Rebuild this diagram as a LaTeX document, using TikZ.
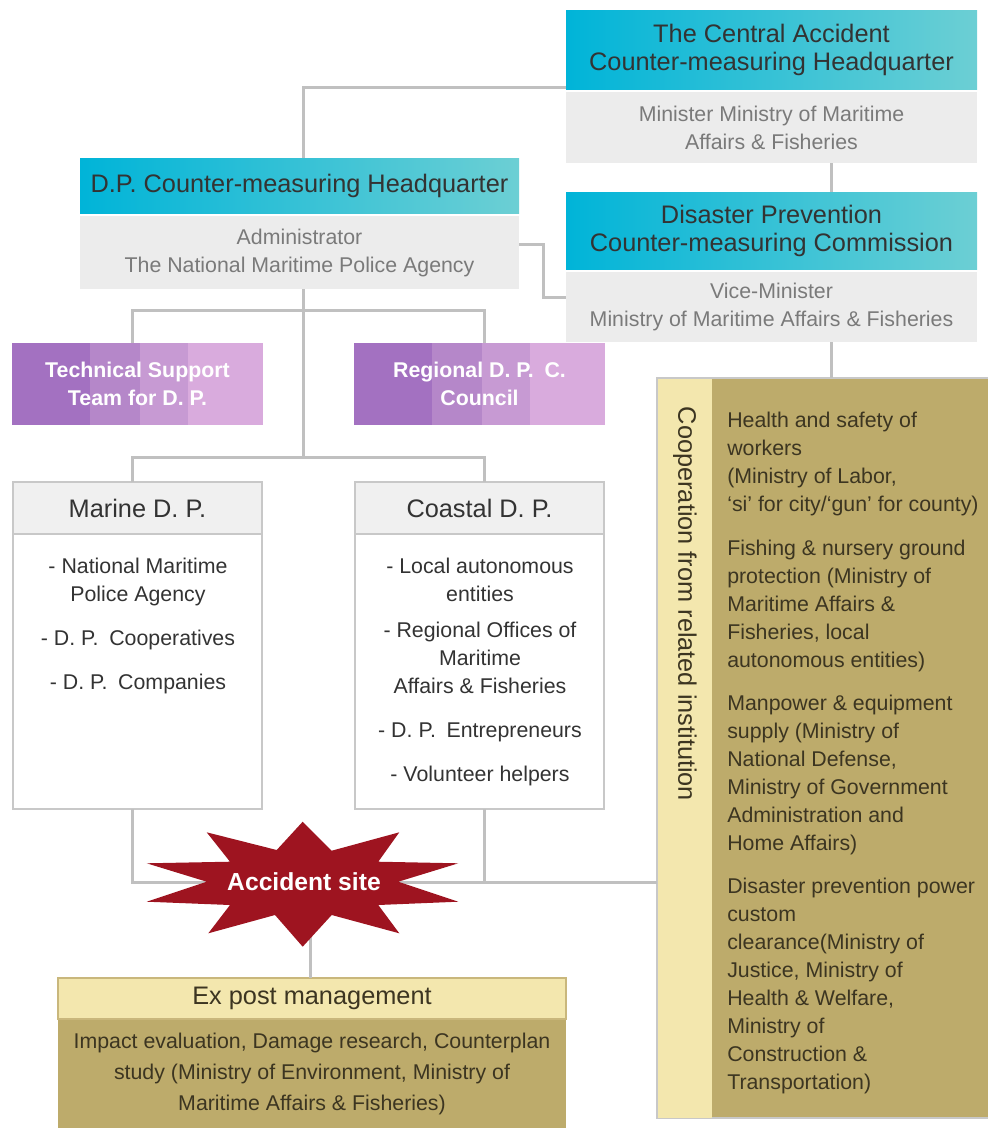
\documentclass[tikz,border=0pt]{standalone}
\usepackage{fontspec}
\setmainfont{Liberation Sans}
\definecolor{cyanA}{HTML}{00B4D8}
\definecolor{cyanB}{HTML}{6CCFD4}
\definecolor{grayfill}{HTML}{ECECEC}
\definecolor{hdrtxt}{HTML}{333333}
\definecolor{graytxt}{HTML}{7A7A7A}
\definecolor{linegray}{HTML}{C0C0C0}
\definecolor{purA}{HTML}{A371C1}
\definecolor{purB}{HTML}{B587C9}
\definecolor{purC}{HTML}{C79AD3}
\definecolor{purD}{HTML}{D9ABDD}
\definecolor{boxhead}{HTML}{F0F0F0}
\definecolor{boxborder}{HTML}{C8C8C8}
\definecolor{olive}{HTML}{BDAB6B}
\definecolor{pale}{HTML}{F3E7AE}
\definecolor{olivetxt}{HTML}{3C3521}
\definecolor{oliveborder}{HTML}{C9B77C}
\definecolor{starred}{HTML}{9E1420}
\def\pxu{0.75pt}
\begin{document}
\begin{tikzpicture}[x=0.75pt,y=-0.75pt,
  conn/.style={draw=linegray,line width=2.25pt},
  cell/.style={anchor=north west,inner sep=0pt,outer sep=0pt,align=center},
  hdr/.style={cell,left color=cyanA,right color=cyanB,text=hdrtxt,
    font=\fontsize{19}{21}\selectfont},
  grb/.style={cell,fill=grayfill,text=graytxt,font=\fontsize{16}{21}\selectfont},
  purtxt/.style={anchor=center,inner sep=0pt,align=center,text=white,
    font=\bfseries\fontsize{16}{21}\selectfont},
  dphead/.style={cell,fill=boxhead,draw=boxborder,line width=1.2pt,text=hdrtxt,
    font=\fontsize{19}{21}\selectfont},
  dpbody/.style={cell,fill=white,draw=boxborder,line width=1.2pt},
  listtxt/.style={anchor=north,inner sep=0pt,align=center,text=hdrtxt,
    font=\fontsize{16}{21}\selectfont},
  coltxt/.style={inner sep=0pt,text=olivetxt,font=\fontsize{16}{21}\selectfont}
]
\useasboundingbox (0,0) rectangle (988,1128);

% ---- top right boxes
\node[hdr,minimum width=411*\pxu,minimum height=79*\pxu] (cahH) at (566,10)
  {The Central Accident\\Counter-measuring Headquarter};
\node[grb,minimum width=411*\pxu,minimum height=71*\pxu] (cahB) at (566,92)
  {Minister Ministry of Maritime\\Affairs \& Fisheries};
\node[hdr,minimum width=411*\pxu,minimum height=77*\pxu] (dpcH) at (566,192)
  {Disaster Prevention\\Counter-measuring Commission};
\node[grb,minimum width=411*\pxu,minimum height=70*\pxu] (dpcB) at (566,272)
  {Vice-Minister\\Ministry of Maritime Affairs \& Fisheries};

% ---- D.P. headquarter
\node[hdr,minimum width=439*\pxu,minimum height=55*\pxu] (dphH) at (80,158)
  {D.P. Counter-measuring Headquarter};
\node[grb,minimum width=439*\pxu,minimum height=73*\pxu] (dphB) at (80,216)
  {Administrator\\The National Maritime Police Agency};

% ---- purple boxes
\fill[purA] (12,343) rectangle (90,425);
\fill[purB] (90,343) rectangle (140,425);
\fill[purC] (140,343) rectangle (188,425);
\fill[purD] (188,343) rectangle (263,425);
\node[cell,minimum width=251*\pxu,minimum height=82*\pxu] (tech) at (12,343) {};
\node[purtxt] (techT) at (tech.center) {Technical Support\\Team for D. P.};
\fill[purA] (354,343) rectangle (432,425);
\fill[purB] (432,343) rectangle (482,425);
\fill[purC] (482,343) rectangle (530,425);
\fill[purD] (530,343) rectangle (605,425);
\node[cell,minimum width=251*\pxu,minimum height=82*\pxu] (reg) at (354,343) {};
\node[purtxt] (regT) at (reg.center) {Regional D. P.\enspace C.\\Council};

% ---- Marine / Coastal
\node[dphead,minimum width=249*\pxu,minimum height=52*\pxu] (marH) at (13,482) {Marine D. P.};
\node[dpbody,minimum width=249*\pxu,minimum height=275*\pxu] (marB) at (13,534) {};
\node[listtxt] (marT) at (138,558)
  {- National Maritime\\Police Agency\\[12pt]- D. P.\enspace Cooperatives\\[12pt]- D. P.\enspace Companies};
\node[dphead,minimum width=249*\pxu,minimum height=52*\pxu] (coaH) at (355,482) {Coastal D. P.};
\node[dpbody,minimum width=249*\pxu,minimum height=275*\pxu] (coaB) at (355,534) {};
\node[listtxt] (coaT) at (480,558)
  {- Local autonomous\\entities\\[6pt]- Regional Offices of\\Maritime\\Affairs \& Fisheries\\[12pt]- D. P.\enspace Entrepreneurs\\[12pt]- Volunteer helpers};

% ---- cooperation box (right edge runs off the picture)
\node[cell,fill=olive,draw=boxborder,line width=1pt,minimum width=340*\pxu,minimum height=740*\pxu] (coop) at (657,378) {};
\fill[pale] (657.5,378.5) rectangle (712,1117.5);
\node[coltxt,rotate=-90,font=\fontsize{19}{21}\selectfont] (coopT) at (685,604)
  {Cooperation from related institution};
\node[coltxt,anchor=north west,align=left] (coopL) at (727,412)
  {Health and safety of\\workers\\(Ministry of Labor,\\‘si’ for city/‘gun’ for county)\\[11.5pt]
   Fishing \& nursery ground\\protection (Ministry of\\Maritime Affairs \&\\Fisheries, local\\autonomous entities)\\[11.5pt]
   Manpower \& equipment\\supply (Ministry of\\National Defense,\\Ministry of Government\\Administration and\\Home Affairs)\\[11.5pt]
   Disaster prevention power\\custom\\clearance(Ministry of\\Justice, Ministry of\\Health \& Welfare,\\Ministry of\\Construction \&\\Transportation)};

% ---- Ex post management
\node[cell,fill=pale,draw=oliveborder,line width=1pt,minimum width=508*\pxu,minimum height=41*\pxu,
  text=olivetxt,font=\fontsize{19}{21}\selectfont] (expH) at (58,978) {Ex post management};
\node[cell,fill=olive,minimum width=508*\pxu,minimum height=109*\pxu] (expB) at (58,1019.5) {};
\node[coltxt,anchor=north,align=center,font=\fontsize{16}{23}\selectfont] (expT) at (312,1033)
  {Impact evaluation, Damage research, Counterplan\\study (Ministry of Environment, Ministry of\\Maritime Affairs \& Fisheries)};

% ---- connector coordinates
\coordinate (t1) at (303,87);
\coordinate (xr) at (831,0);
\coordinate (c2a) at (543,244);
\coordinate (c2b) at (543,297);
\coordinate (bL1) at (132,310);
\coordinate (bR1) at (484,310);
\coordinate (bL2) at (132,457);
\coordinate (bR2) at (484,457);
\coordinate (bL3) at (132,882);
\coordinate (bR3) at (484,882);
\coordinate (accC) at (303,882);
\coordinate (accS) at (310,900);

% ---- connectors
\draw[conn] (cahH.west |- t1) -- (t1) -- (dphH.north -| t1);
\draw[conn] (cahB.south -| xr) -- (dpcH.north -| xr);
\draw[conn] (dpcB.south -| xr) -- (coop.north -| xr);
\draw[conn] (dphB.east |- c2a) -- (c2a) -- (c2b) -- (dpcB.west |- c2b);
\draw[conn] (dphB.south -| t1) -- (t1 |- bL2);
\draw[conn] (tech.north -| bL1) -- (bL1) -- (bR1) -- (reg.north -| bR1);
\draw[conn] (marH.north -| bL2) -- (bL2) -- (bR2) -- (coaH.north -| bR2);
\draw[conn] (marB.south -| bL3) -- (bL3) -- (accC);
\draw[conn] (coaB.south -| bR3) -- (bR3) -- (accC);
\draw[conn] (bR3) -- (coop.west |- bR3);
\draw[conn] (accS) -- (expH.north -| accS);

% ---- accident star
\fill[starred] (302.7,821.7) -- (331.7,850.7) -- (399.3,832.3) -- (378.3,861.7)
  -- (458.3,863.3) -- (398.3,881.7) -- (458.3,901.7) -- (378.3,905)
  -- (399.3,933.3) -- (331.7,915) -- (302.7,946.7) -- (275,915)
  -- (208.3,933.3) -- (230,905) -- (146.7,901.7) -- (206.7,881.7)
  -- (146.7,863.3) -- (230,861.7) -- (206.7,832.3) -- (276.7,850) -- cycle;
\node[inner sep=0pt,text=white,font=\bfseries\fontsize{18.5}{21}\selectfont] (acc) at (304,882) {Accident site};
\end{tikzpicture}
\end{document}
